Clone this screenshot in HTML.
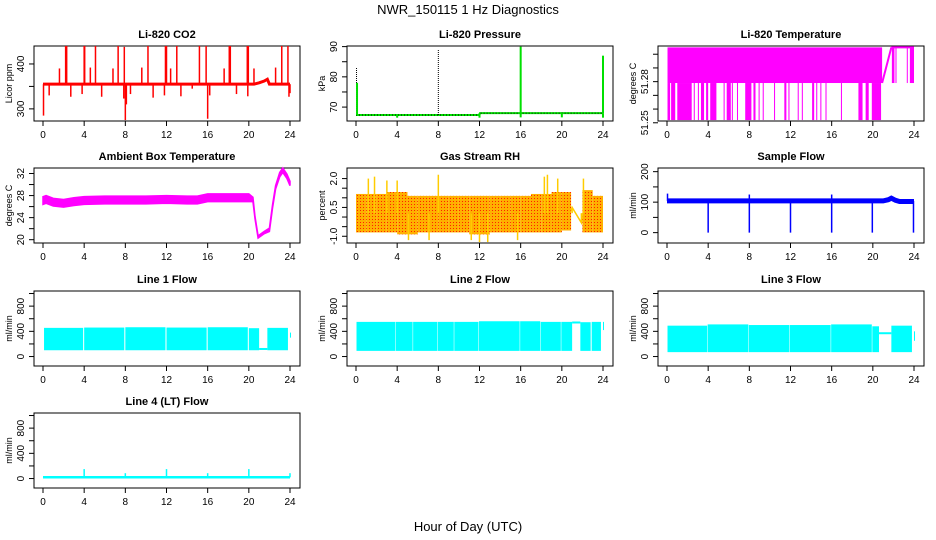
<!DOCTYPE html>
<html><head><meta charset="utf-8"><style>
html,body{margin:0;padding:0;background:#fff}
svg{display:block;font-family:"Liberation Sans",sans-serif}
</style></head><body>
<svg id="c" width="936" height="540" viewBox="0 0 936 540">
<defs>
<pattern id="rhdots" width="3" height="3" patternUnits="userSpaceOnUse"><rect width="1" height="1" fill="#ff2000"/></pattern>
</defs>
<text x="468" y="14" text-anchor="middle" font-size="13">NWR_150115  1 Hz Diagnostics</text>
<text x="468" y="531" text-anchor="middle" font-size="13">Hour of Day (UTC)</text>
</svg>
<script>
// ---- data ----
const xTicks = [0,4,8,12,16,20,24];
// CO2
const co2BaseT = [0,20.5,21.0,21.5,21.8,22.0,24];
const co2BaseV = [355,355,358,362,366,355,355];
const co2SpikeT = [2.2,2.3,4.0,4.05,5.1,7.3,7.9,10.2,11.9,12.0,13.0,15.2,15.85,18.1,18.2,19.85,19.95,23.2,23.8,1.6,4.6,6.8,9.6,12.4,17.6,20.5,22.6,0.05,8.0,16.0,7.85,8.1,0.6,2.7,3.8,5.7,8.5,10.7,11.8,13.4,14.5,16.2,18.8,19.9,23.9,24.0];
const co2SpikeV = [440,440,440,440,440,440,438,440,440,440,440,440,440,440,440,440,440,440,440,390,392,390,392,390,390,390,392,285,275,278,323,310,330,327,333,327,333,325,330,328,345,330,333,328,327,335];
// Pressure
const presBaseT = [0,12,12.05,24];
const presBaseV = [67.4,67.4,68.0,68.0];
const presSpikeT = [0.05,0.1,8.0,16.0,24.0,4.0,12.0,16.0,20.0,24.0];
const presSpikeV = [83,78,89,90,87,66.5,66.5,66.6,66.6,66.5];
const presSpikeCol = ["#000","#00e000","#000","#00e000","#00e000","#00e000","#00e000","#00e000","#00e000","#00e000"];
// Li-820 temperature
const tHigh = 51.305, tMid = 51.279, tLow = 51.252;
const tLowStart = [0.05,0.4,1.0,2.6,3.0,3.3,3.8,4.2,5.5,5.8,6.3,6.8,7.6,8.4,8.9,9.3,10.4,11.4,11.8,12.7,13.1,14.1,14.5,14.9,15.4,16.9,18.6,19.3,19.9];
const tLowEnd   = [0.3,0.8,2.4,2.7,3.1,3.6,4.0,4.8,5.6,6.2,6.4,6.9,8.2,8.6,9.0,9.4,10.5,11.6,11.9,12.8,13.2,14.3,14.6,15.0,15.5,17.0,19.0,19.6,20.8];
const tDropStart = [21.85,22.2,23.3,23.6];
const tDropEnd   = [22.1,22.3,23.35,24.0];
// Ambient box temperature
const ambT = [0,0.3,1,2,3,4,6,8,10,12,14,15,16,18,20,20.4,20.6,20.9,21.5,22.0,22.3,22.6,23.0,23.3,23.7,24];
const ambV = [27.1,27.3,26.8,26.6,26.9,27.1,27.2,27.2,27.2,27.3,27.2,27.2,27.6,27.6,27.6,27.3,24,20.5,21.3,21.8,26,29.5,31.8,32.6,31.5,30.2];
const ambW = [0.7,0.7,0.7,0.7,0.7,0.7,0.7,0.7,0.7,0.7,0.7,0.7,0.7,0.7,0.7,0.4,0.2,0.2,0.2,0.3,0.3,0.3,0.4,0.4,0.4,0.4];
// Gas stream RH
const rhT  = [0,1,2,3,4,5,6,7,8,9,10,11,12,13,14,15,16,17,18,19,20,20.9,22.0,23,24];
const rhLo = [-0.3,-0.8,-0.8,-0.8,-0.7,-0.9,-0.8,-0.8,-0.8,-0.8,-0.8,-0.8,-0.9,-0.8,-0.8,-0.8,-0.8,-0.8,-0.8,-0.8,-0.7,-0.4,-0.7,-0.8,-0.2];
const rhHi = [1.0,1.3,1.3,1.3,1.4,1.2,1.2,1.2,1.2,1.2,1.2,1.1,1.2,1.2,1.2,1.2,1.2,1.2,1.3,1.3,1.4,0.9,1.5,1.2,1.0];
const rhSpikeT = [1.2,1.8,3.0,4.0,8.0,12.0,12.8,15.7,18.3,18.6,19.6,22.1,5.1,7.1,11.2,21.0,21.9];
const rhSpikeV = [2.0,2.1,1.9,1.9,2.2,-1.3,-1.3,-1.2,2.1,2.2,2.0,2.0,-1.2,-1.2,-1.2,0.5,-0.3];
// Sample flow
const sfT = [0,21.0,21.5,21.8,22.2,22.6,24];
const sfV = [104,104,108,113,106,102,102];
const sfSpikeT = [4.0,8.0,12.0,16.0,19.95,23.95,0.05,8.0,16.0];
const sfSpikeV = [0,0,0,0,0,0,128,125,125];
// Line flows: band segments
const l1Start = [0.1,4.0,8.0,12.0,16.0,20.0,21.8,24.0];
const l1End   = [3.9,7.9,11.9,15.9,19.9,21.0,23.8,24.05];
const l1Lo    = [100,100,100,100,100,100,100,300];
const l1Hi    = [455,460,465,460,465,450,455,380];
const l1FlatT = [21.0,21.8]; const l1FlatV = [120,120];
const l2Start = [0.05,3.85,5.55,7.95,9.55,11.95,15.95,17.95,19.95,21.8,22.9,24.0];
const l2End   = [3.8,5.5,7.9,9.5,11.9,15.9,17.9,19.9,21.0,22.8,23.8,24.05];
const l2Lo    = [90,90,90,90,90,90,90,90,90,90,90,420];
const l2Hi    = [550,550,550,550,550,560,560,550,550,545,550,550];
const l2FlatT = [21.0,21.8]; const l2FlatV = [540,540];
const l3Start = [0.05,3.95,7.95,11.95,15.95,19.95,21.8,24.0];
const l3End   = [3.9,7.9,11.9,15.9,19.9,20.6,23.8,24.05];
const l3Lo    = [70,70,70,70,70,70,70,250];
const l3Hi    = [490,510,500,500,510,480,490,400];
const l3FlatT = [20.6,21.8]; const l3FlatV = [370,370];
// Line 4
const l4T = [0,24]; const l4V = [20,20];
const l4SpikeT = [4.0,8.0,12.0,16.0,20.0,24.0];
const l4SpikeV = [150,85,150,85,150,85];

// ---- drawing ----
const svg = document.getElementById('c');
const NS = 'http://www.w3.org/2000/svg';
function mk(tag, attrs, parent){ const e=document.createElementNS(NS,tag); for(const k in attrs) e.setAttribute(k,attrs[k]); (parent||svg).appendChild(e); return e; }
const colL=[34,347,658], W=266, rowT=[46,168,291,413], H=75;
function panel(col,row,title,ylab,ymin,ymax,ticks,tickLabels,name){
  const L=colL[col], T=rowT[row];
  const g=mk('g',{});
  
  
  const sx=h=>L+9+h*(247/24);
  const sy=v=>T+H-(v-ymin)/(ymax-ymin)*H;
  const t=mk('text',{x:L+W/2,y:T-8,'text-anchor':'middle','font-size':11,'font-weight':'bold'},g); t.textContent=title;
  
  
  const b=mk('rect',{x:L,y:T,width:W,height:H,fill:'none',stroke:'#000','stroke-width':1},g);
  
  
  xTicks.forEach(h=>{
    mk('line',{x1:sx(h),x2:sx(h),y1:T+H,y2:T+H+5,stroke:'#000'},g);
    const tx=mk('text',{x:sx(h),y:T+H+17,'text-anchor':'middle','font-size':10},g); tx.textContent=h;
    
    
  });
  ticks.forEach((v,i)=>{
    const y=sy(v); mk('line',{x1:L-5,x2:L,y1:y,y2:y,stroke:'#000'},g);
    if(tickLabels[i]!==''){ const ty=mk('text',{x:0,y:0,'text-anchor':'middle','font-size':10,transform:`translate(${L-10},${y}) rotate(-90)`},g); ty.textContent=tickLabels[i];
      
       }
  });
  const yl=mk('text',{x:0,y:0,'text-anchor':'middle','font-size':9,transform:`translate(${L-22},${T+H/2}) rotate(-90)`},g); yl.textContent=ylab;
  
  
  const clip=mk('g',{},g);
  return {sx,sy,g:clip};
}
function poly(p,ts,vs,col,w,name){ const pts=ts.map((t,i)=>p.sx(t)+','+p.sy(vs[i])).join(' '); const e=mk('polyline',{points:pts,fill:'none',stroke:col,'stroke-width':w},p.g);   return e;}
function vline(p,t,v0,v1,col,w,name){ const e=mk('line',{x1:p.sx(t),x2:p.sx(t),y1:p.sy(v0),y2:p.sy(v1),stroke:col,'stroke-width':w},p.g);   return e;}
function band(p,t0,t1,lo,hi,fill,name){ const e=mk('rect',{x:p.sx(t0),y:p.sy(hi),width:Math.max(1,p.sx(t1)-p.sx(t0)),height:p.sy(lo)-p.sy(hi),fill:fill},p.g);   return e;}

// CO2
let p=panel(0,0,'Li-820 CO2','Licor ppm',273,440,[300,350,400],['300','','400'],'co2');
co2SpikeT.forEach((t,i)=>{ const b=co2BaseV[0]; vline(p,t,b,co2SpikeV[i],'#ff0000',1.5,'co2-spike'); });
poly(p,co2BaseT,co2BaseV,'#ff0000',3,'co2-series');
// Pressure
p=panel(1,0,'Li-820 Pressure','kPa',65.4,90.2,[70,75,80,85,90],['70','','80','','90'],'pressure');
poly(p,presBaseT,presBaseV,'#00e000',2,'pressure-series');
poly(p,presBaseT,presBaseV,'#000',1,'pressure-series-dotted').setAttribute('stroke-dasharray','1,2');
presSpikeT.forEach((t,i)=>{ const base=t<12?67.4:68.0; const e=vline(p,t,base,presSpikeV[i],presSpikeCol[i],presSpikeCol[i]=='#000'?1:2,'pressure-spike'); if(presSpikeCol[i]=='#000') e.setAttribute('stroke-dasharray','1,1'); });
// Li-820 temperature
p=panel(2,0,'Li-820 Temperature','degrees C',51.2513,51.306,[51.25,51.26,51.27,51.28,51.29,51.30],['51.25','','','51.28','',''],'li820-temp');
band(p,0.05,20.9,tMid,tHigh,'#ff00ff','li820-temp-band');
tLowStart.forEach((s,i)=>band(p,s,tLowEnd[i],tLow,tMid,'#ff00ff','li820-temp-low-bar'));
poly(p,[20.9,21.8],[tMid,tHigh],'#ff00ff',2,'li820-temp-ramp');
poly(p,[21.8,24],[tHigh,tHigh],'#ff00ff',2,'li820-temp-high');
tDropStart.forEach((s,i)=>band(p,s,tDropEnd[i],tMid,tHigh,'#ff00ff','li820-temp-drop'));
// Ambient
p=panel(0,1,'Ambient Box Temperature','degrees C',19.4,33.0,[20,22,24,26,28,30,32],['20','','24','','28','','32'],'ambient-temp');
{ const up=ambT.map((t,i)=>p.sx(t)+','+p.sy(ambV[i]+ambW[i])); const dn=ambT.map((t,i)=>p.sx(t)+','+p.sy(ambV[i]-ambW[i])).reverse();
  const e=mk('polygon',{points:up.concat(dn).join(' '),fill:'#ff00ff',stroke:'#ff00ff','stroke-width':1.5},p.g);
    }
// RH
p=panel(1,1,'Gas Stream RH','percent',-1.35,2.55,[-1.0,-0.5,0,0.5,1.0,1.5,2.0],['-1.0','','','0.5','','','2.0'],'gas-rh');
for(let i=0;i<rhT.length-1;i++){ if(rhT[i]===20.9) continue;
  band(p,rhT[i],rhT[i+1],Math.min(rhLo[i],rhLo[i+1]),Math.max(rhHi[i],rhHi[i+1])-0.1,'#ffb000','gas-rh-band');
  band(p,rhT[i],rhT[i+1],Math.min(rhLo[i],rhLo[i+1]),Math.max(rhHi[i],rhHi[i+1])-0.1,'url(#rhdots)','gas-rh-band-dots'); }
poly(p,[20.9,21.0,21.9,22.0],[0.3,0.5,-0.3,0.2],'#ffcc00',1.5,'gas-rh-gap-line');
rhSpikeT.forEach((t,i)=>vline(p,t,0.2,rhSpikeV[i],'#ffcc00',1.5,'gas-rh-spike'));
// Sample flow
p=panel(2,1,'Sample Flow','ml/min',-34,212,[0,50,100,150,200],['0','','100','','200'],'sample-flow');
sfSpikeT.forEach((t,i)=>vline(p,t,104,sfSpikeV[i],'#0000ff',1.5,'sample-flow-spike'));
poly(p,sfT,sfV,'#0000ff',5,'sample-flow-series');
// Line flows
const fTicks=[0,200,400,600,800,1000], fLab=['0','','400','','800',''];
function flow(col,row,title,name,st,en,lo,hi,ft,fv){
  const q=panel(col,row,title,'ml/min',-150,1040,fTicks,fLab,name);
  st.forEach((s,i)=>band(q,s,en[i],lo[i],hi[i],'#00ffff',name+'-band'));
  if(ft) poly(q,ft,fv,'#00ffff',2,name+'-flat');
  return q;
}
flow(0,2,'Line 1 Flow','line1-flow',l1Start,l1End,l1Lo,l1Hi,l1FlatT,l1FlatV);
flow(1,2,'Line 2 Flow','line2-flow',l2Start,l2End,l2Lo,l2Hi,l2FlatT,l2FlatV);
flow(2,2,'Line 3 Flow','line3-flow',l3Start,l3End,l3Lo,l3Hi,l3FlatT,l3FlatV);
p=panel(0,3,'Line 4 (LT) Flow','ml/min',-150,1040,fTicks,fLab,'line4-flow');
l4SpikeT.forEach((t,i)=>vline(p,t,20,l4SpikeV[i],'#00ffff',1.5,'line4-flow-spike'));
poly(p,l4T,l4V,'#00ffff',2.5,'line4-flow-series');
</script>
</body></html>
